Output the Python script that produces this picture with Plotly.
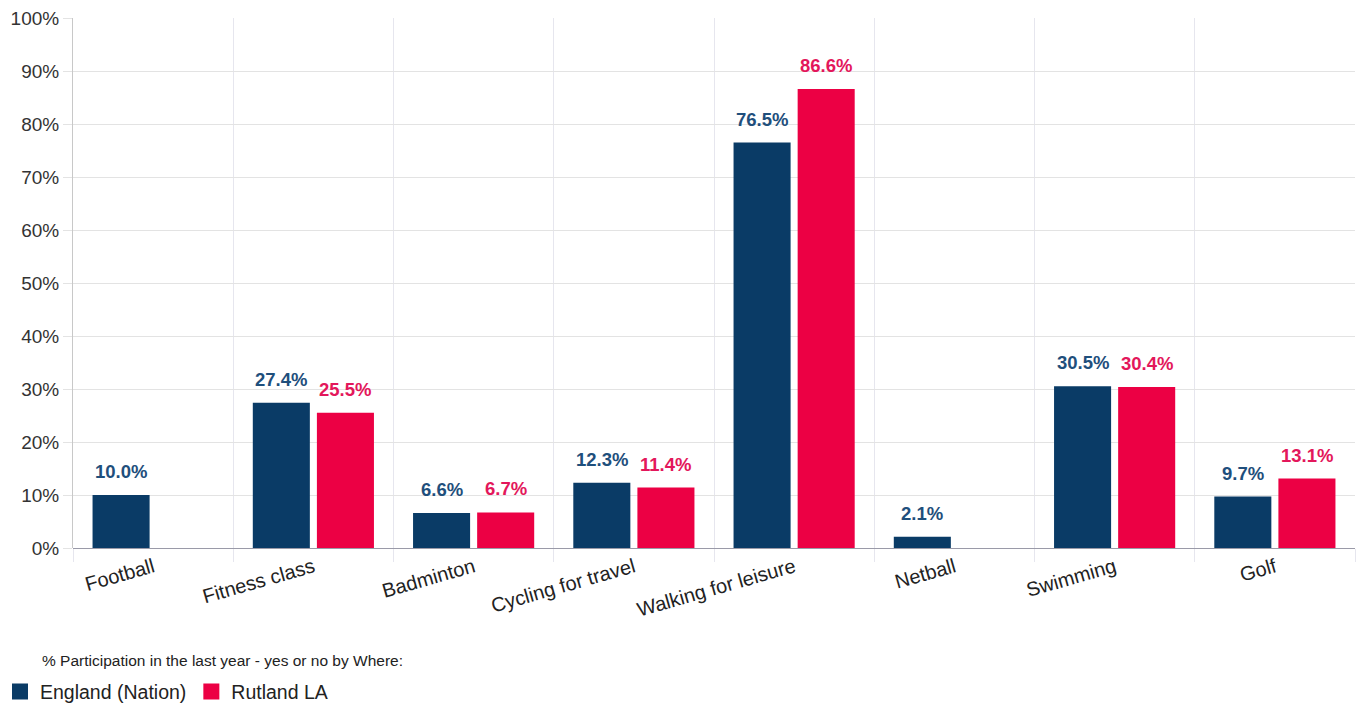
import plotly.graph_objects as go

categories = ["Football", "Fitness class", "Badminton", "Cycling for travel",
              "Walking for leisure", "Netball", "Swimming", "Golf"]
england = [10.0, 27.4, 6.6, 12.3, 76.5, 2.1, 30.5, 9.7]
rutland = [None, 25.5, 6.7, 11.4, 86.6, None, 30.4, 13.1]
y_ticks = [0, 10, 20, 30, 40, 50, 60, 70, 80, 90, 100]

NAVY = "#0a3b66"
RED = "#ec0044"
NAVY_TXT = "#1f4f7c"
RED_TXT = "#e3175b"
FONT = "Liberation Sans, Arial, sans-serif"

series = [
    ("England (Nation)", england, NAVY, NAVY_TXT, -32),
    ("Rutland LA", rutland, RED, RED_TXT, 32),
]

fig = go.Figure()
annotations = []
for name, vals, col, txt_col, shift in series:
    fig.add_trace(go.Bar(
        x=categories, y=vals, name=name, showlegend=False,
        marker=dict(color=col, line=dict(width=0)),
    ))
    # legend swatch (larger square than the default bar symbol)
    fig.add_trace(go.Scatter(
        x=[None], y=[None], name=name, mode="markers",
        marker=dict(symbol="square", size=16, color=col),
    ))
    # value labels above each bar
    for cat, v in zip(categories, vals):
        if v is None:
            continue
        annotations.append(dict(
            x=cat, y=v, xref="x", yref="y", text=f"{v:.1f}%",
            xshift=shift, yshift=11, yanchor="bottom", xanchor="center",
            showarrow=False,
            font=dict(family=FONT, size=18.5, color=txt_col, weight="bold"),
        ))

annotations.append(dict(
    text="% Participation in the last year - yes or no by Where:",
    xref="paper", yref="paper", x=-0.0258, y=-0.213, xanchor="left", yanchor="middle",
    showarrow=False, font=dict(family=FONT, size=15.5, color="#222222"),
))

fig.update_layout(
    width=1357, height=706,
    margin=dict(l=73, r=2, t=18, b=158),
    paper_bgcolor="white", plot_bgcolor="white",
    barmode="group", bargap=0.2, bargroupgap=0.11,
    font=dict(family=FONT, color="#333333"),
    showlegend=True,
    legend=dict(orientation="h", xref="container", yref="container",
                x=0.0, xanchor="left", y=0.02, yanchor="middle",
                font=dict(family=FONT, size=19.5, color="#222222"), traceorder="normal",
                itemsizing="trace", itemwidth=30, tracegroupgap=0),
    annotations=annotations,
)
fig.update_xaxes(
    tickangle=-16, tickfont=dict(size=20, color="#222222"),
    tickson="boundaries", ticks="outside", ticklen=13, tickcolor="#e6e6ee",
    ticklabelstandoff=3,
    showgrid=True, gridcolor="#e6e6ee", gridwidth=1,
    showline=False,
)
fig.update_yaxes(
    range=[0, 100], tickvals=y_ticks, ticktext=[f"{t}%" for t in y_ticks],
    tickfont=dict(size=19, color="#333333"),
    showgrid=True, gridcolor="#e3e3e3", gridwidth=1,
    zeroline=True, zerolinecolor="#9a9aa8", zerolinewidth=1,
    showline=True, linecolor="#c8c8c8", linewidth=1,
    ticks="outside", ticklen=9, tickcolor="#e3e3e3",
)

fig.write_html("out.html")
